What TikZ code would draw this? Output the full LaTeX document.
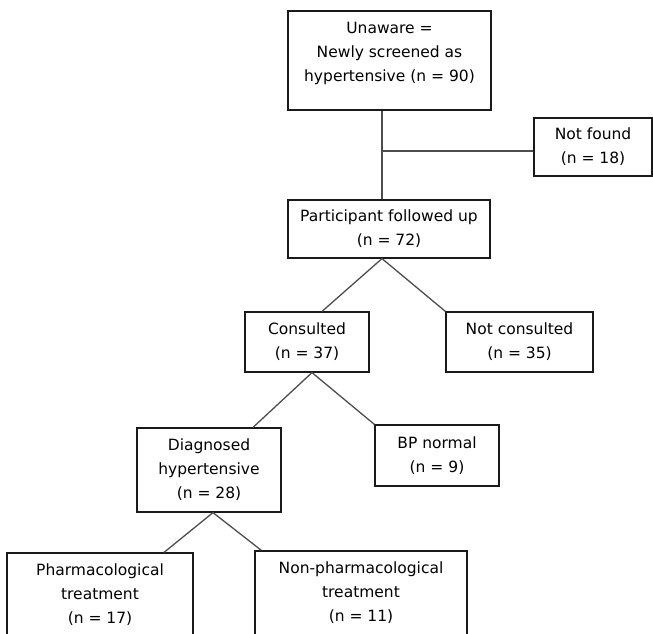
\documentclass[tikz,border=0pt]{standalone}
\usepackage{fontspec}
\setmainfont{DejaVu Sans}
\usepackage{xcolor}
\usepackage{tikz}
\usetikzlibrary{calc}
\definecolor{boxline}{HTML}{1A1A1A}
\definecolor{linkline}{HTML}{4D4D4D}

\begin{document}
\begin{tikzpicture}[x=1pt,y=-1pt,
  box/.style={draw=boxline,line width=1.2pt,inner sep=0pt,align=center,
    font=\fontsize{15.5}{24}\selectfont},
  link/.style={draw=linkline,line width=1.3pt}]
\useasboundingbox (0,0) rectangle (653,633);
\clip (0,0) rectangle (653,633);
% boxes
\node[box,minimum width=203,minimum height=99] (unaware) at (389.5,60.5) {};
\node[align=center,inner sep=0pt,font=\fontsize{15.5}{24}\selectfont] (unawaretxt) at ([yshift=7pt]unaware.center) {Unaware =\\Newly screened as\\hypertensive (n = 90)};
\node[box,minimum width=118,minimum height=58] (notfound) at (593,147) {Not found\\(n = 18)};
\node[box,minimum width=202,minimum height=58] (followed) at (389,229) {Participant followed up\\(n = 72)};
\node[box,minimum width=124,minimum height=60] (consulted) at (307,342) {Consulted\\(n = 37)};
\node[box,minimum width=147,minimum height=60] (notcons) at (519.5,342) {Not consulted\\(n = 35)};
\node[box,minimum width=144,minimum height=84] (diagnosed) at (209,470) {Diagnosed\\hypertensive\\(n = 28)};
\node[box,minimum width=124,minimum height=61] (bpnormal) at (437,455.5) {BP normal\\(n = 9)};
\node[box,minimum width=186,minimum height=84] (pharm) at (100,595) {Pharmacological\\treatment\\(n = 17)};
\node[box,minimum width=212,minimum height=84] (nonpharm) at (361,593) {Non-pharmacological\\treatment\\(n = 11)};
% connectors
\coordinate (trunk) at (382,151);
\draw[link] (trunk |- unaware.south) -- (trunk |- followed.north);
\draw[link] (trunk) -- (trunk -| notfound.west);
\draw[link] ([xshift=15pt]consulted.north) -- (trunk |- followed.south) -- (notcons.north west);
\draw[link] ([xshift=44pt]diagnosed.north) -- ([xshift=5pt]consulted.south) -- (bpnormal.north west);
\draw[link] ([xshift=64pt]pharm.north) -- ([xshift=4pt]diagnosed.south) -- ([xshift=7pt]nonpharm.north west);
\end{tikzpicture}
\end{document}
